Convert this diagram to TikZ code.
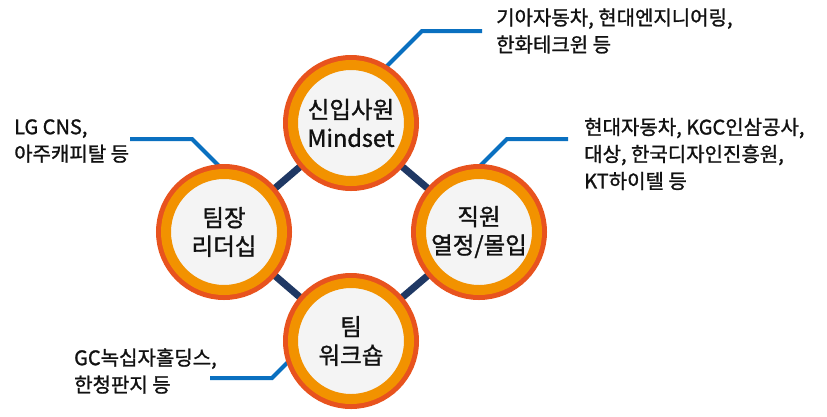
\documentclass[tikz,border=0pt]{standalone}
\usepackage{fontspec}
\setmainfont{Noto Sans CJK KR}[FakeBold=1.2]
\usetikzlibrary{backgrounds}
\definecolor{ringred}{HTML}{E8531E}
\definecolor{ringorange}{HTML}{F29200}
\definecolor{ringfill}{HTML}{F4F4F4}
\definecolor{navy}{HTML}{1F3864}
\definecolor{calloutblue}{HTML}{0A70C0}
\definecolor{txt}{HTML}{111111}
\begin{document}
\begin{tikzpicture}[x=1pt,y=-1pt,
  ring/.style={circle, inner sep=0pt, minimum size=116pt, fill=ringfill,
    draw=ringorange, line width=10pt,
    preaction={draw=ringred, line width=20pt},
    align=center, text=txt, font=\fontsize{23.5}{28.5}\selectfont},
  link/.style={draw=navy, line width=7pt},
  callout/.style={draw=calloutblue, line width=4pt},
  note/.style={anchor=west, align=left, inner sep=0pt, text=txt,
    font=\fontsize{20}{27}\selectfont}
]
\useasboundingbox (0,0) rectangle (827,416);

\node[ring] (top) at (351,123) {신입사원\\Mindset};
\node[ring] (left) at (224,232) {팀장\\리더십};
\node[ring] (right) at (479,232) {직원\\열정/몰입};
\node[ring] (bottom) at (351,341) {팀\\워크숍};

\coordinate (tcorner) at (422,31);
\coordinate (tend) at (482,31);
\coordinate (tin) at (362,91);
\coordinate (lcorner) at (192,139);
\coordinate (lend) at (130,139);
\coordinate (lin) at (252,199);
\coordinate (rcorner) at (507,139);
\coordinate (rend) at (568,139);
\coordinate (rin) at (447,199);
\coordinate (bcorner) at (272,378);
\coordinate (bend) at (210,378);
\coordinate (bin) at (312,338);

\begin{pgfonlayer}{background}
\draw[link] (top.center) -- (left.center);
\draw[link] (top.center) -- (right.center);
\draw[link] (bottom.center) -- (left.center);
\draw[link] (bottom.center) -- (right.center);
\draw[callout] (tin) -- (tcorner) -- (tend);
\draw[callout] (lin) -- (lcorner) -- (lend);
\draw[callout] (rin) -- (rcorner) -- (rend);
\draw[callout] (bin) -- (bcorner) -- (bend);
\end{pgfonlayer}

\node[note] (tnote) at (496,31) {기아자동차, 현대엔지니어링,\\한화테크윈 등};
\node[note] (lnote) at (14,141) {LG CNS,\\아주캐피탈 등};
\node[note] (rnote) at (584,154) {현대자동차, KGC인삼공사,\\대상, 한국디자인진흥원,\\KT하이텔 등};
\node[note] (bnote) at (74,371) {GC녹십자홀딩스,\\한청판지 등};
\end{tikzpicture}
\end{document}
